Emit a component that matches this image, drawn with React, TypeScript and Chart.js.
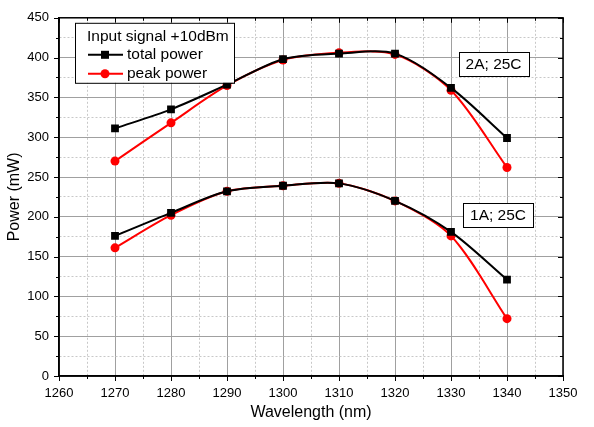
import React, { useEffect, useRef } from 'react';
import { Chart, registerables } from 'chart.js';

Chart.register(...registerables);

const wavelengths = [1270, 1280, 1290, 1300, 1310, 1320, 1330, 1340];
const total2A = [311, 335, 366, 398, 405, 405, 362, 299];
const peak2A = [270, 318, 365, 397, 406, 404, 359, 262];
const total1A = [176, 205, 232, 239, 242, 220, 181, 121];
const peak1A = [161, 202, 232, 239, 242, 220, 176, 72];

const xMin = 1260;
const xMax = 1350;
const yMin = 0;
const yMax = 450;

const legendTitle = 'Input signal +10dBm';
const seriesNames = ['total power', 'peak power'];
const seriesColors = ['#000000', '#ff0000'];
const seriesMarkers = ['rect', 'circle'];

const noteTexts = ['2A; 25C', '1A; 25C'];
const noteX = [1337.6, 1338.4];
const noteY = [392.5, 202];

const FONT = 'Arial, "Liberation Sans", Helvetica, sans-serif';

const framePlugin = {
  id: 'frameAndNotes',
  afterDraw(chart: any) {
    const { ctx, chartArea } = chart;
    const { left, right, top, bottom } = chartArea;
    const xs = chart.scales.x;
    const ys = chart.scales.y;
    ctx.save();
    ctx.strokeStyle = '#000';
    ctx.lineWidth = 1.5;
    ctx.strokeRect(left, top, right - left, bottom - top);
    ctx.lineWidth = 1;
    for (let v = yMin; v <= yMax; v += 25) {
      const y = Math.round(ys.getPixelForValue(v)) + 0.5;
      const major = v % 50 === 0;
      const len = major ? 5 : 3;
      ctx.beginPath();
      ctx.moveTo(left - len, y);
      ctx.lineTo(left, y);
      ctx.moveTo(right, y);
      ctx.lineTo(right - len, y);
      ctx.stroke();
    }
    for (let v = xMin; v <= xMax; v += 5) {
      const x = Math.round(xs.getPixelForValue(v)) + 0.5;
      const major = v % 10 === 0;
      const len = major ? 5 : 3;
      ctx.beginPath();
      ctx.moveTo(x, bottom);
      ctx.lineTo(x, bottom + len);
      ctx.moveTo(x, top);
      ctx.lineTo(x, top + len);
      ctx.stroke();
    }
    const lx = left + 16;
    const ly = top + 5;
    const lw = 159;
    const lh = 60;
    ctx.fillStyle = '#fff';
    ctx.fillRect(lx, ly, lw, lh);
    ctx.strokeStyle = '#000';
    ctx.lineWidth = 1;
    ctx.strokeRect(lx + 0.5, ly + 0.5, lw, lh);
    ctx.font = '15.5px ' + FONT;
    ctx.textBaseline = 'middle';
    ctx.textAlign = 'left';
    ctx.fillStyle = '#000';
    ctx.fillText(legendTitle, lx + 12, ly + 14);
    seriesNames.forEach((name, i) => {
      const cy = ly + 32 + i * 19;
      ctx.strokeStyle = seriesColors[i];
      ctx.lineWidth = 2;
      ctx.beginPath();
      ctx.moveTo(lx + 13, cy);
      ctx.lineTo(lx + 48, cy);
      ctx.stroke();
      ctx.fillStyle = seriesColors[i];
      if (seriesMarkers[i] === 'rect') {
        ctx.fillRect(lx + 30 - 4, cy - 4, 8, 8);
      } else {
        ctx.beginPath();
        ctx.arc(lx + 30, cy, 4.5, 0, Math.PI * 2);
        ctx.fill();
      }
      ctx.fillStyle = '#000';
      ctx.fillText(name, lx + 52, cy);
    });
    noteTexts.forEach((t, i) => {
      const cx = xs.getPixelForValue(noteX[i]);
      const cy = ys.getPixelForValue(noteY[i]);
      ctx.font = '15.5px ' + FONT;
      const w = ctx.measureText(t).width + 14;
      const h = 24;
      const bx = Math.round(cx - w / 2) + 0.5;
      const by = Math.round(cy - h / 2) + 0.5;
      ctx.fillStyle = '#fff';
      ctx.fillRect(bx, by, w, h);
      ctx.strokeStyle = '#000';
      ctx.lineWidth = 1;
      ctx.strokeRect(bx, by, w, h);
      ctx.fillStyle = '#000';
      ctx.textAlign = 'center';
      ctx.textBaseline = 'middle';
      ctx.fillText(t, cx, cy + 1);
    });
    ctx.restore();
  },
};

function makeDataset(label: string, values: number[], idx: number) {
  return {
    label,
    data: wavelengths.map((w, i) => ({ x: w, y: values[i] })),
    borderColor: seriesColors[idx],
    backgroundColor: seriesColors[idx],
    borderWidth: 2,
    pointStyle: seriesMarkers[idx],
    pointRadius: idx === 0 ? 5.5 : 4.5,
    pointHoverRadius: idx === 0 ? 5.5 : 4.5,
    pointBorderWidth: 0,
    tension: 0.3,
    fill: false,
  };
}

export default function App() {
  const ref = useRef<HTMLCanvasElement>(null);
  useEffect(() => {
    if (!ref.current) return;
    const chart = new Chart(ref.current, {
      type: 'line',
      data: {
        datasets: [
          makeDataset('total power 2A', total2A, 0),
          makeDataset('peak power 2A', peak2A, 1),
          makeDataset('total power 1A', total1A, 0),
          makeDataset('peak power 1A', peak1A, 1),
        ],
      },
      options: {
        responsive: false,
        animation: false,
        layout: { padding: { top: 16, right: 31, left: 0, bottom: 0 } },
        plugins: { legend: { display: false }, tooltip: { enabled: false } },
        scales: {
          x: {
            type: 'linear',
            min: xMin,
            max: xMax,
            afterFit: (s: any) => { s.height = 51; },
            ticks: {
              stepSize: 5,
              autoSkip: false,
              maxRotation: 0,
              padding: 10,
              color: '#000',
              font: { size: 13, family: FONT },
              callback: (v: any) => (Number(v) % 10 === 0 ? String(v) : ''),
            },
            grid: {
              drawTicks: false,
              color: (c: any) => (c.tick && c.tick.value % 10 === 0 ? '#a0a0a0' : '#c8c8c8'),
              lineWidth: 1,
            },
            border: {
              color: '#000',
              width: 1.5,
              dash: (c: any) => (c.tick && c.tick.value % 10 !== 0 ? [2, 2] : []),
            },
            title: {
              display: true,
              text: 'Wavelength (nm)',
              color: '#000',
              font: { size: 16, family: FONT },
              padding: { top: 0, bottom: 5 },
            },
          },
          y: {
            min: yMin,
            max: yMax,
            afterFit: (s: any) => { s.width = 59; },
            ticks: {
              stepSize: 25,
              autoSkip: false,
              padding: 10,
              color: '#000',
              font: { size: 13, family: FONT },
              callback: (v: any) => (Number(v) % 50 === 0 ? String(v) : ''),
            },
            grid: {
              drawTicks: false,
              color: (c: any) => (c.tick && c.tick.value % 50 === 0 ? '#a0a0a0' : '#c8c8c8'),
              lineWidth: 1,
            },
            border: {
              color: '#000',
              width: 1.5,
              dash: (c: any) => (c.tick && c.tick.value % 50 !== 0 ? [2, 2] : []),
            },
            title: {
              display: true,
              text: 'Power (mW)',
              color: '#000',
              font: { size: 16, family: FONT },
              padding: { top: 5, bottom: 0 },
            },
          },
        },
      },
      plugins: [framePlugin],
    } as any);
    return () => chart.destroy();
  }, []);
  return (
    <div style={{ position: 'absolute', left: 0, top: 0, width: 594, height: 427, background: '#fff' }}>
      <canvas ref={ref} width={594} height={427} style={{ display: 'block' }} />
    </div>
  );
}
